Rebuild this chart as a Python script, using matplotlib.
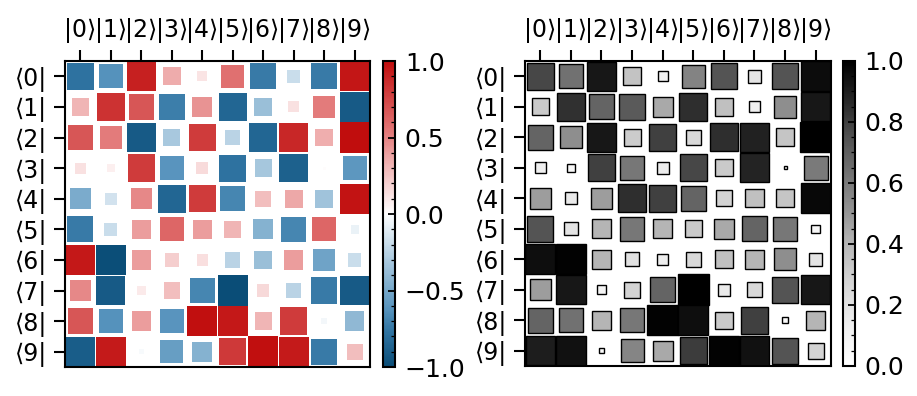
import numpy as np
import matplotlib
matplotlib.use("Agg")
import matplotlib.pyplot as plt
from matplotlib.patches import Rectangle
from matplotlib.colors import LinearSegmentedColormap, Normalize
from matplotlib.cm import ScalarMappable
from matplotlib.ticker import AutoMinorLocator

# matrix elements (rows <i|, columns |j>)
row0 = [-0.78, -0.63, 0.92, 0.35, 0.11, 0.57, -0.74, -0.19, -0.74, 0.96]
row1 = [0.32, 0.84, 0.68, -0.72, 0.44, -0.85, -0.36, 0.13, 0.53, -0.92]
row2 = [0.68, 0.53, -0.92, -0.31, 0.80, -0.25, -0.85, 0.89, 0.34, 1.00]
row3 = [0.13, 0.07, 0.80, -0.61, 0.15, -0.78, -0.32, -0.88, 0.01, -0.60]
row4 = [-0.48, -0.16, 0.48, -0.85, 0.80, -0.68, 0.28, 0.36, -0.34, 0.97]
row5 = [-0.74, -0.19, 0.40, 0.61, 0.40, 0.32, -0.44, -0.68, 0.61, -0.075]
row6 = [0.95, -0.99, 0.40, 0.21, 0.14, -0.25, -0.36, 0.40, -0.53, -0.19]
row7 = [0.48, -0.92, 0.09, 0.28, -0.68, -1.00, 0.16, -0.25, -0.74, -0.92]
row8 = [0.68, -0.63, 0.40, -0.61, 0.99, 0.95, 0.32, 0.80, -0.04, -0.40]
row9 = [-0.90, 0.94, -0.03, -0.56, -0.44, 0.81, 0.99, 0.94, -0.74, 0.28]

W = np.array([row0, row1, row2, row3, row4, row5, row6, row7, row8, row9])
ket_labels = ['|%d\u27e9' % i for i in range(10)]
bra_labels = ['\u27e8%d|' % i for i in range(10)]

div_cmap = LinearSegmentedColormap.from_list("div", [
    (0.0, "#0a4d77"), (0.11, "#2e72a0"), (0.185, "#5592bc"), (0.345, "#a8c8de"),
    (0.5, "#ffffff"), (0.66, "#f0b4b4"), (0.785, "#e07070"), (0.92, "#cc3333"),
    (1.0, "#c00d0d")])
seq_cmap = plt.get_cmap("Greys")

FS = 17
CFS = 18


def hinton(ax, cax, M, cmap, norm, edge, ticks):
    n = M.shape[0]
    wmax = 1.0
    for i in range(n):
        for j in range(n):
            w = M[i, j]
            s = np.sqrt(min(1.0, abs(w) / wmax))
            ax.add_patch(Rectangle((j + 0.5 - s / 2, i + 0.5 - s / 2), s, s,
                                   facecolor=cmap(norm(w)),
                                   edgecolor=edge, linewidth=1.0 if edge != 'none' else 0))
    ax.set_xlim(0, n)
    ax.set_ylim(n, 0)
    ax.set_aspect('auto')
    ax.xaxis.tick_top()
    ax.set_xticks(np.arange(n) + 0.5)
    ax.set_yticks(np.arange(n) + 0.5)
    ax.set_xticklabels(ket_labels, fontsize=FS)
    ax.set_yticklabels(bra_labels, fontsize=FS)
    ax.tick_params(length=8, width=1.5, pad=5)
    for sp in ax.spines.values():
        sp.set_linewidth(1.5)

    cb = plt.colorbar(ScalarMappable(norm=norm, cmap=cmap), cax=cax)
    cb.set_ticks(ticks)
    cb.ax.yaxis.set_minor_locator(AutoMinorLocator())
    cb.ax.tick_params(which='major', direction='in', length=5, width=1.3,
                      labelsize=CFS, pad=7)
    cb.ax.tick_params(which='minor', direction='in', length=3, width=0.9)
    cb.outline.set_linewidth(1.5)


fig = plt.figure(figsize=(9.17, 3.96), dpi=100)
ax1 = fig.add_axes([0.0709, 0.0732, 0.3326, 0.7727])
cax1 = fig.add_axes([0.4177, 0.0732, 0.0131, 0.7727])
ax2 = fig.add_axes([0.5725, 0.0758, 0.3337, 0.7702])
cax2 = fig.add_axes([0.9193, 0.0758, 0.0131, 0.7702])

hinton(ax1, cax1, W, div_cmap, Normalize(-1, 1), 'none', [-1, -0.5, 0, 0.5, 1])
hinton(ax2, cax2, np.abs(W), seq_cmap, Normalize(0, 1), 'black',
       [0, 0.2, 0.4, 0.6, 0.8, 1.0])

fig.savefig("out.png", dpi=100)
